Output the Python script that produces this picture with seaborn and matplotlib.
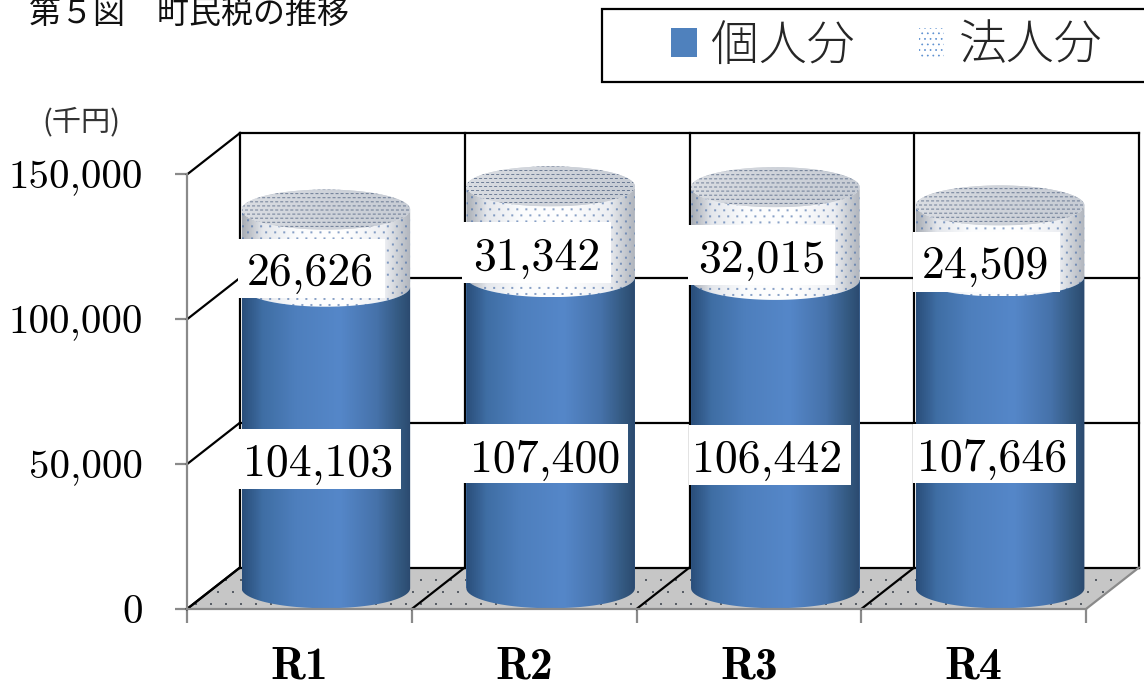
import numpy as np
import pandas as pd
import matplotlib
matplotlib.use("Agg")
import matplotlib.pyplot as plt
import seaborn as sns
from matplotlib.colors import LinearSegmentedColormap, to_rgb
from matplotlib.patches import Patch, PathPatch, Polygon, Rectangle
from matplotlib.path import Path

# Values in thousand yen
years = ["R1", "R2", "R3", "R4"]
individual = [104103, 107400, 106442, 107646]
corporate = [26626, 31342, 32015, 24509]
y_ticks = [0, 50000, 100000, 150000]

W, H = 1144, 685
BLUE = "#4f81bd"
GREY = "#8a8a8a"

sns.set_theme(style="white")
plt.rcParams["font.family"] = ["cmr10", "Noto Sans CJK JP", "DejaVu Sans"]
plt.rcParams["hatch.linewidth"] = 0.5
plt.rcParams["axes.unicode_minus"] = False

fig = plt.figure(figsize=(W / 100, H / 100), dpi=100, facecolor="white")
ax = fig.add_axes([187 / W, 1 - 609 / H, 899 / W, 434.5 / H], facecolor="none")

# Conversion between pixels and data units for the oblique depth
PX_X = 4 / 899
PX_Y = 150000 / 434.5
DX, DY = 53 * PX_X, 41.5 * PX_Y
RY = 20 * PX_Y

df = pd.DataFrame({"year": years, "individual": individual, "corporate": corporate})
sns.barplot(data=df, x="year", y="individual", color=BLUE, saturation=1, width=0.75,
            linewidth=0, ax=ax, zorder=3)
sns.barplot(data=df, x="year", y="corporate", color="white", saturation=1, width=0.75,
            linewidth=0, bottom=df["individual"].to_numpy(), ax=ax, zorder=3)


def textured(base_rgb, dot_color, alpha, sx, sy, dot_w, dot_h):
    """Lay a staggered dot pattern over an RGB array, one array cell per screen pixel."""
    ny, nx = base_rgb.shape[:2]
    jj, ii = np.mgrid[0:ny, 0:nx]
    shift = (jj // sy % 2) * (sx // 2)
    mask = ((ii + shift) % sx < dot_w) & (jj % sy < dot_h)
    out = base_rgb.copy()
    out[mask] = out[mask] * (1 - alpha) + np.array(to_rgb(dot_color)) * alpha
    return out


def place_image(rgb, extent, shape, zorder):
    """Show an RGB array inside a patch that may reach beyond the axes box."""
    image = ax.imshow(rgb, extent=extent, aspect="auto", zorder=zorder,
                      interpolation="bilinear")
    image.set_clip_path(shape)
    image.set_clip_box(fig.bbox)
    return image


# Floor and back walls of the oblique box
x0, x1 = -0.5, 3.5
floor = Polygon([(x0, 0), (x1, 0), (x1 + DX, DY), (x0 + DX, DY)], closed=True,
                facecolor="#c4c4c4", edgecolor="none", zorder=1, clip_on=False)
ax.add_patch(floor)
floor_rgb = np.full((42, 952, 3), to_rgb("#c6c6c6"))
place_image(textured(floor_rgb, "#3d444e", 0.8, 15, 12, 2, 2),
            (x0, x1 + DX, 0, DY), floor, 1.1)

line_kw = dict(color="black", lw=1.6, zorder=2, clip_on=False, solid_capstyle="projecting")
for v in y_ticks:
    ax.plot([x0 + DX, x1 + DX], [v + DY, v + DY], **line_kw)
    ax.plot([x0, x0 + DX], [v, v + DY], **line_kw)
for c in range(5):
    xc = x0 + c + DX
    ax.plot([xc, xc], [DY, 150000 + DY], **line_kw)
    if c < 4:
        ax.plot([x0 + c, xc], [0, DY], **line_kw)
ax.plot([x1, x1 + DX], [0, DY], color=GREY, lw=1.6, zorder=2, clip_on=False)

blue_map = LinearSegmentedColormap.from_list("cyl_blue", [
    (0.0, "#2a4e7a"), (0.12, "#3f6ea4"), (0.32, "#4e7fbd"), (0.58, "#5587c9"),
    (0.8, "#4672aa"), (0.94, "#33587f"), (1.0, "#2b4a70")])
pale_map = LinearSegmentedColormap.from_list("cyl_pale", [
    (0.0, "#a8adb5"), (0.12, "#e4e7ec"), (0.32, "#fbfcfd"), (0.6, "#ffffff"),
    (0.85, "#eceef2"), (1.0, "#b0b5bd")])
lid_map = LinearSegmentedColormap.from_list("cyl_lid", ["#dadde2", "#cfd3da", "#c8cdd5"])


def front_arc(cx, cy, rx):
    t = np.linspace(np.pi, 2 * np.pi, 80)
    return np.column_stack([cx + rx * np.cos(t), cy + RY * np.sin(t)])


def ramp_rgb(cmap, nx, ny):
    return np.repeat(cmap(np.linspace(0, 1, nx))[None, :, :3], ny, axis=0)


def draw_section(bar, cmap, dots, zorder):
    """Shade one stacked bar as a section of an upright cylinder."""
    left, w = bar.get_x() + DX / 2, bar.get_width()
    low, high = bar.get_y() + DY / 2, bar.get_y() + bar.get_height() + DY / 2
    bar.set_x(left)
    bar.set_y(low)
    bar.set_clip_on(False)
    cx, rx = left + w / 2, w / 2
    verts = np.vstack([front_arc(cx, low, rx), front_arc(cx, high, rx)[::-1]])
    shape = PathPatch(Path(np.vstack([verts, verts[:1]]), closed=True), facecolor="none",
                      edgecolor="none", lw=0, zorder=zorder, clip_on=False)
    ax.add_patch(shape)
    nx, ny = int(w / PX_X), int((high - low + 2 * RY) / PX_Y)
    rgb = ramp_rgb(cmap, nx, ny)
    if dots:
        rgb = textured(rgb, **dots)
    place_image(rgb, (left, left + w, low - RY, high + RY), shape, zorder)
    return cx, rx, high


body_dots = dict(dot_color="#4a6fa8", alpha=0.65, sx=9, sy=6, dot_w=2, dot_h=2)
lid_dots = dict(dot_color="#3a4f72", alpha=0.65, sx=5, sy=4, dot_w=3, dot_h=1)

for bar in ax.containers[0]:
    draw_section(bar, blue_map, None, 4)
for bar in ax.containers[1]:
    cx, rx, top = draw_section(bar, pale_map, body_dots, 5)
    t = np.linspace(0, 2 * np.pi, 160)
    lid = PathPatch(Path(np.column_stack([cx + rx * np.cos(t), top + RY * np.sin(t)]), closed=True),
                    facecolor="#d0d4da", edgecolor="none", zorder=6, clip_on=False)
    ax.add_patch(lid)
    nx, ny = int(2 * rx / PX_X), int(2 * RY / PX_Y)
    place_image(textured(ramp_rgb(lid_map, nx, ny), **lid_dots),
                (cx - rx, cx + rx, top - RY, top + RY), lid, 6.1)

ax.set_xlim(-0.5, 3.5)
ax.set_ylim(0, 150000)
ax.set_xlabel("")
ax.set_ylabel("")

# Axes: grey spines, ticks at category edges, serif tick labels
sns.despine(ax=ax)
for side in ("left", "bottom"):
    ax.spines[side].set_color(GREY)
    ax.spines[side].set_linewidth(1.6)
    ax.spines[side].set_zorder(7)
ax.set_yticks(y_ticks)
ax.set_yticklabels([f"{v:,}" for v in y_ticks], fontsize=29.5, color="black")
ax.tick_params(axis="y", length=9, width=1.6, color=GREY, pad=23, left=True)
ax.set_xticks(range(4))
ax.set_xticklabels(years, fontsize=33, family="cmb10", color="black")
ax.set_xticks(np.arange(-0.5, 4), minor=True)
ax.tick_params(axis="x", which="major", length=0, pad=27, bottom=False)
ax.tick_params(axis="x", which="minor", length=10, width=1.6, color=GREY, bottom=True)

# Value labels on white boxes: box left, right, top, bottom, then text left and baseline
low_spots = [(238, 401, 429, 489, 243, 476), (463, 628, 424, 483, 470, 472),
             (689, 851, 425, 485, 692, 472), (913, 1076, 424, 483, 917, 471)]
high_spots = [(238, 385, 239, 298, 247, 285), (462, 611, 222, 283, 473, 270),
              (688, 835, 225, 285, 698, 272), (913, 1060, 232, 292, 922, 278)]
for values, spots in ((individual, low_spots), (corporate, high_spots)):
    for v, (bx0, bx1, by0, by1, tx, ty) in zip(values, spots):
        fig.add_artist(Rectangle((bx0 / W, 1 - by1 / H), (bx1 - bx0) / W, (by1 - by0) / H,
                                 transform=fig.transFigure, facecolor="white",
                                 edgecolor="none", zorder=10))
        fig.text(tx / W, 1 - ty / H, f"{v:,}", fontsize=33, ha="left", va="baseline",
                 color="black", zorder=11)

# Heading and unit
jp = ["Noto Sans CJK JP", "DejaVu Sans"]
fig.text(29 / W, 1 - 14 / H, "第５図　町民税の推移", fontsize=23, family=jp, va="center",
         color="#111111")
fig.text(81 / W, 1 - 122 / H, "(千円)", fontsize=21, family=jp, ha="center", va="center",
         color="#333333")

# Legend box runs off the right-hand edge
fig.add_artist(Rectangle((602 / W, 1 - 82 / H), 560 / W, 73 / H, transform=fig.transFigure,
                         facecolor="white", edgecolor="black", lw=1.6, zorder=8))
handles = [Patch(facecolor=BLUE, edgecolor="none"),
           Patch(facecolor="white", edgecolor="#5b8fd0", hatch="...", lw=0)]
legend = fig.legend(handles, ["個人分", "法人分"], ncol=2, frameon=False,
                    prop={"family": jp, "size": 34.5, "weight": "light"},
                    handlelength=0.54, handleheight=0.54, handletextpad=0.3,
                    columnspacing=1.33, borderpad=0, borderaxespad=0,
                    loc="center left", bbox_to_anchor=(671 / W, 1 - 46 / H))
legend.set_zorder(9)

fig.savefig("out.png", dpi=100)
